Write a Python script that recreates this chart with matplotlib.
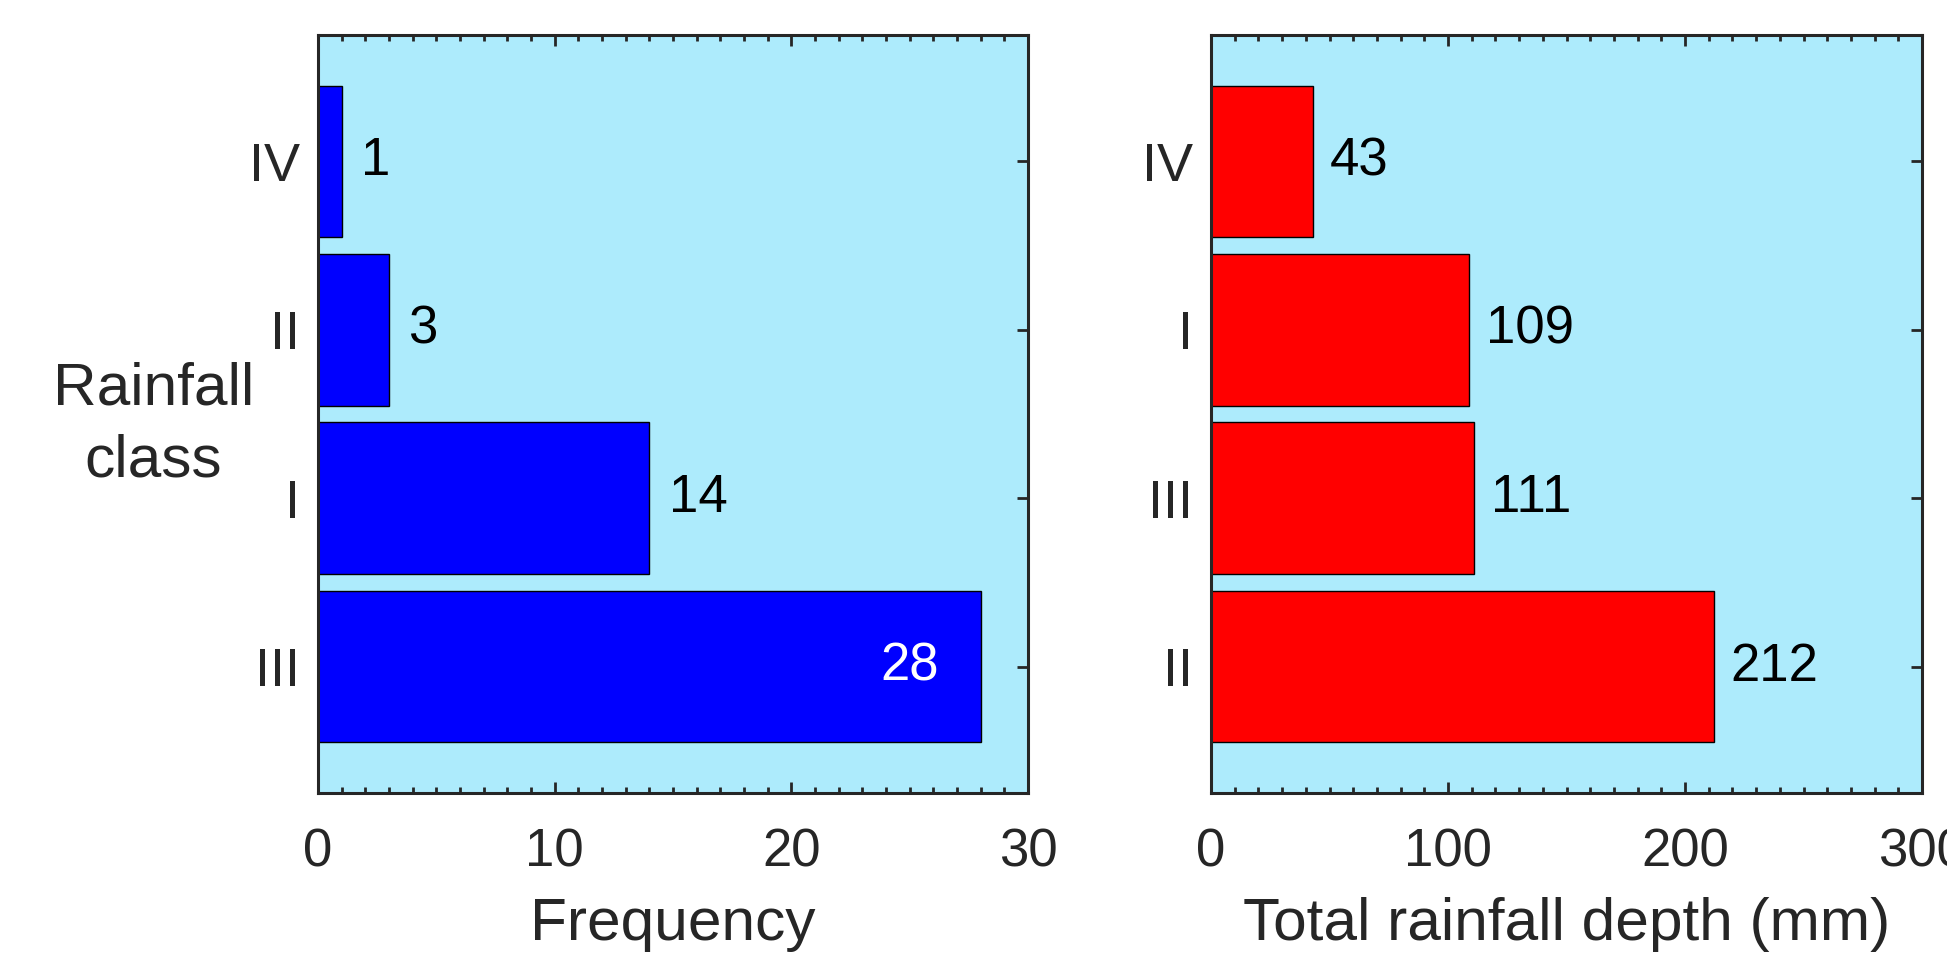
import numpy as np
import matplotlib.pyplot as plt
from matplotlib.ticker import MultipleLocator

# data (bottom to top)
freq_classes = ['III', 'I', 'II', 'IV']
freq_values = [28, 14, 3, 1]
depth_classes = ['II', 'III', 'I', 'IV']
depth_values = [212, 111, 109, 43]

plt.rcParams['font.family'] = ['Liberation Sans', 'DejaVu Sans']
txt = '#262626'
bg = '#ADEBFC'

fig = plt.figure(figsize=(19.47, 9.57), dpi=100)
ax1 = fig.add_axes([0.1633, 0.1714, 0.3647, 0.792])
ax2 = fig.add_axes([0.6220, 0.1714, 0.3652, 0.792])


def style(ax, xmax, major, minor):
    ax.set_facecolor(bg)
    ax.set_xlim(0, xmax)
    ax.set_ylim(0.25, 4.75)
    ax.xaxis.set_major_locator(MultipleLocator(major))
    ax.xaxis.set_minor_locator(MultipleLocator(minor))
    ax.tick_params(axis='x', which='both', direction='in', top=True, bottom=True,
                   colors=txt, labelsize=38, pad=25, width=2)
    ax.tick_params(axis='x', which='major', length=8)
    ax.tick_params(axis='x', which='minor', length=4)
    ax.tick_params(axis='y', which='both', direction='in', left=False, right=True,
                   labelleft=True, colors=txt, labelsize=39, pad=13, length=8, width=2)
    for s in ax.spines.values():
        s.set_linewidth(2.2)
        s.set_color(txt)


y = np.arange(1, 5)

ax1.barh(y, freq_values, height=0.9, color='#0000FF', edgecolor='black', linewidth=1)
ax1.set_yticks(y, freq_classes)
style(ax1, 30, 10, 1)
ax1.set_xlabel('Frequency', fontsize=43.5, color=txt, labelpad=14)
ax1.set_ylabel('Rainfall\nclass', fontsize=43.5, color=txt, rotation=0,
               ha='center', va='center', labelpad=0, linespacing=1.4)
ax1.yaxis.set_label_coords(-0.232, 0.485)
for yi, v in zip(y, freq_values):
    if v > 20:
        ax1.annotate(str(v), (v, yi), xytext=(-30, 0), textcoords='offset points',
                     ha='right', va='center', fontsize=38, color='white')
    else:
        ax1.annotate(str(v), (v, yi), xytext=(14, 0), textcoords='offset points',
                     ha='left', va='center', fontsize=38, color='black')

ax2.barh(y, depth_values, height=0.9, color='#FF0000', edgecolor='black', linewidth=1)
ax2.set_yticks(y, depth_classes)
style(ax2, 300, 100, 10)
ax2.set_xlabel('Total rainfall depth (mm)', fontsize=43.5, color=txt, labelpad=14)
for yi, v in zip(y, depth_values):
    ax2.annotate(str(v), (v, yi), xytext=(12, 0), textcoords='offset points',
                 ha='left', va='center', fontsize=38, color='black')

fig.savefig('out.png', dpi=100)
